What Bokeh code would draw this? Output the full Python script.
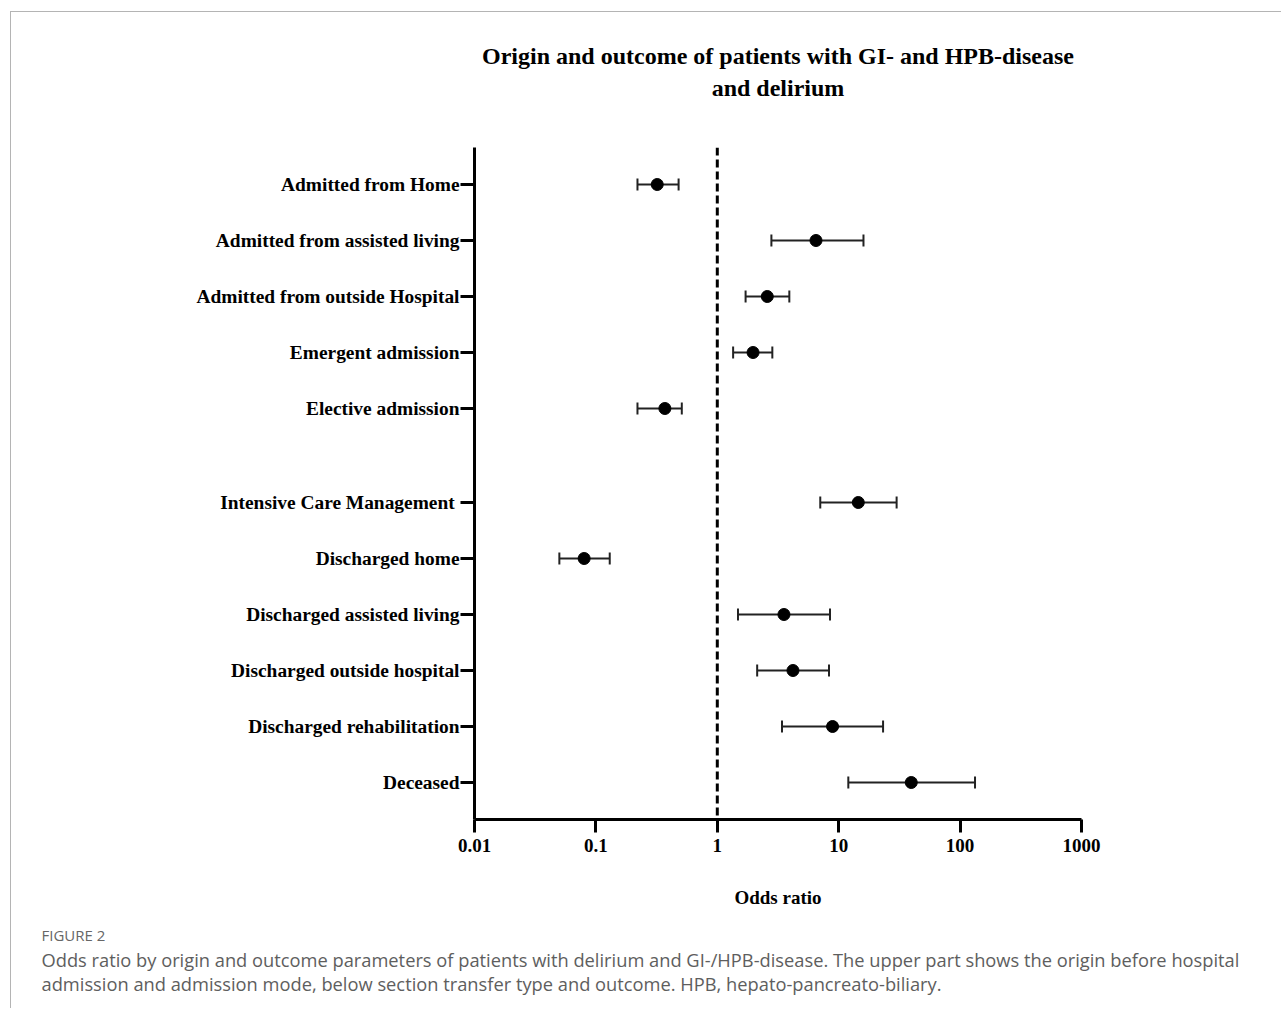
from bokeh.plotting import figure
from bokeh.layouts import column
from bokeh.models import (ColumnDataSource, Range1d, FixedTicker, NumeralTickFormatter,
                          Whisker, TeeHead, Span)
from bokeh.core.properties import value
from bokeh.embed import file_html
from bokeh.resources import INLINE

# ---- data ----
labels = ["Admitted from Home", "Admitted from assisted living", "Admitted from outside Hospital",
          "Emergent admission", "Elective admission",
          "Intensive Care Management ", "Discharged home", "Discharged assisted living",
          "Discharged outside hospital", "Discharged rehabilitation", "Deceased"]
odds = [0.32, 6.5, 2.58, 1.97, 0.37, 14.5, 0.080, 3.54, 4.2, 8.9, 39.6]
ci_low = [0.22, 2.79, 1.71, 1.35, 0.22, 7.05, 0.050, 1.48, 2.13, 3.41, 12.0]
ci_high = [0.48, 16.0, 3.92, 2.84, 0.51, 30.0, 0.13, 8.48, 8.32, 23.2, 132.7]
group = [0, 0, 0, 0, 0, 1, 1, 1, 1, 1, 1]
x_ticks = [0.01, 0.1, 1, 10, 100, 1000]

title_lines = ["Origin and outcome of patients with GI- and HPB-disease", "and delirium"]
x_label = "Odds ratio"
caption_head = "FIGURE 2"
caption_lines = ["Odds ratio by origin and outcome parameters of patients with delirium and GI-/HPB-disease. The upper part shows the origin before hospital",
                 "admission and admission mode, below section transfer type and outcome. HPB, hepato-pancreato-biliary."]

# row positions (top to bottom); a wider gap separates the two groups
ROW = 56
GAP = 38
ypos = [ROW * i + GAP * g for i, g in enumerate(group)]

src = ColumnDataSource(dict(y=ypos, odds=odds, lo=ci_low, hi=ci_high, label=labels))

SERIF = "Liberation Serif"
SANS = "Open Sans"

# ---- layout sizes (px) ----
W = 1270
TOP_H = 135          # title strip
FW, FH = 607, 672    # plot frame
ML = 463             # left border of main plot
MB = 100             # bottom border (axis ticks + label)
CAP_H = 89           # caption strip
FRAME_CX = ML + FW / 2


def text_strip(height):
    f = figure(width=W, height=height, x_range=Range1d(0, W), y_range=Range1d(height, 0),
               x_axis_location=None, y_axis_location=None,
               output_backend="svg", toolbar_location=None,
               min_border=0)
    f.outline_line_color = None
    f.grid.visible = False
    f.background_fill_color = "white"
    f.border_fill_color = "white"
    return f


# ---- title strip ----
pt = text_strip(TOP_H)
pt.text(x=[FRAME_CX, FRAME_CX], y=[43, 75], text=title_lines,
        text_align="center", text_baseline="middle",
        text_font=value(SERIF), text_font_style="bold", text_font_size="24px",
        text_color="black")

# ---- main forest plot ----
p = figure(width=W, height=FH + MB, x_axis_type="log",
           x_range=Range1d(0.01, 1000),
           y_range=Range1d(ypos[-1] + 37, -37),
           output_backend="svg", toolbar_location=None,
           min_border_left=ML, min_border_right=W - ML - FW,
           min_border_top=0, min_border_bottom=MB)
p.outline_line_color = None
p.grid.visible = False
p.background_fill_color = "white"
p.border_fill_color = "white"

for ax in (p.xaxis[0], p.yaxis[0]):
    ax.axis_line_width = 3
    ax.axis_line_color = "black"
    ax.major_tick_line_width = 3
    ax.major_tick_line_color = "black"
    ax.major_tick_in = 0
    ax.minor_tick_line_color = None
    ax.major_label_text_font = SERIF
    ax.major_label_text_font_style = "bold"
    ax.major_label_text_color = "black"

p.xaxis.ticker = FixedTicker(ticks=x_ticks)
p.xaxis.formatter = NumeralTickFormatter(format="0.[00]")
p.xaxis.major_tick_out = 13
p.xaxis.major_label_standoff = 6
p.xaxis.major_label_text_font_size = "19px"
p.xaxis.axis_label = x_label
p.xaxis.axis_label_text_font = SERIF
p.xaxis.axis_label_text_font_style = "bold"
p.xaxis.axis_label_text_font_size = "19px"
p.xaxis.axis_label_text_color = "black"
p.xaxis.axis_label_standoff = 32

p.yaxis.ticker = FixedTicker(ticks=ypos)
p.yaxis.major_label_overrides = {y: lab for y, lab in zip(ypos, labels)}
p.yaxis.major_tick_out = 14
p.yaxis.major_label_standoff = 1
p.yaxis.major_label_text_font_size = "19.4px"

# reference line at OR = 1
p.add_layout(Span(location=1, dimension="height", line_color="black",
                  line_width=3, line_dash="8 4"))

# 95% CI error bars
wh = Whisker(base="y", lower="lo", upper="hi", dimension="width", source=src,
             line_color="#222222", line_width=2,
             lower_head=TeeHead(size=12, line_width=2, line_color="#222222"),
             upper_head=TeeHead(size=12, line_width=2, line_color="#222222"))
p.add_layout(wh)

p.scatter(x="odds", y="y", source=src, size=12, color="black")

# ---- caption strip ----
pc = text_strip(CAP_H)
pc.text(x=[30], y=[15], text=[caption_head], text_align="left", text_baseline="middle",
        text_font=value(SANS), text_font_size="15px", text_color="#666666")
pc.text(x=[30, 30], y=[40, 64], text=caption_lines, text_align="left", text_baseline="middle",
        text_font=value(SANS), text_font_size="18.3px", text_color="#5e5e5e")

# wrap each strip separately so the plot frames are not aligned with each other
layout = column(column(pt), column(p), column(pc), spacing=0,
                styles={"margin-left": "10px", "margin-top": "11px",
                        "border-top": "1px solid #b4b4b4", "border-left": "1px solid #b4b4b4"})

open("out.html", "w").write(file_html(layout, INLINE))
